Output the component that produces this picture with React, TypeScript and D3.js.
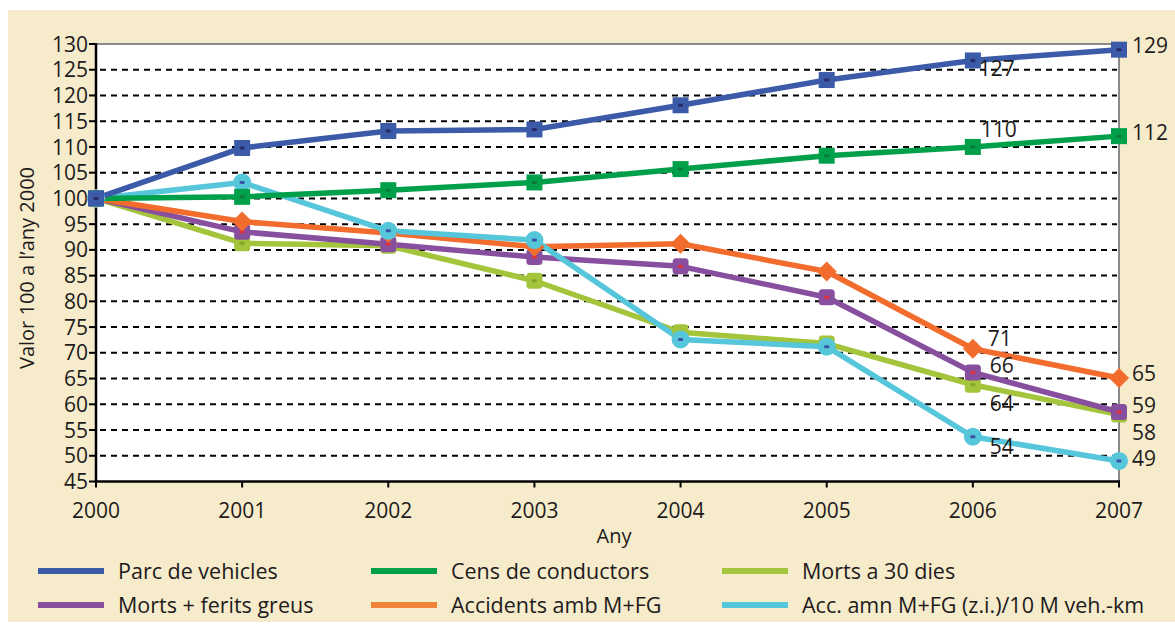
import React from "react";
import * as d3 from "d3";

const years = [2000, 2001, 2002, 2003, 2004, 2005, 2006, 2007];
const yTicks = [45, 50, 55, 60, 65, 70, 75, 80, 85, 90, 95, 100, 105, 110, 115, 120, 125, 130];

const parcVehicles = [100, 109.8, 113.1, 113.4, 118.1, 123.0, 126.8, 128.9];
const censConductors = [100, 100.3, 101.6, 103.1, 105.7, 108.3, 110.0, 112.1];
const morts30 = [100, 91.3, 90.8, 84.0, 74.0, 71.8, 63.8, 58.0];
const mortsFerits = [100, 93.5, 91.1, 88.6, 86.8, 80.8, 66.2, 58.5];
const accidents = [100, 95.5, 93.3, 90.6, 91.2, 85.8, 70.8, 65.1];
const accKm = [100, 103.1, 93.7, 91.9, 72.6, 71.2, 53.7, 49.0];

const legendNames = [
  "Parc de vehicles",
  "Cens de conductors",
  "Morts a 30 dies",
  "Morts + ferits greus",
  "Accidents amb M+FG",
  "Acc. amn M+FG (z.i.)/10 M veh.-km",
];

type Series = {
  name: string;
  values: number[];
  color: string;
  legendColor: string;
  marker: "square" | "diamond" | "circle" | "rsquare";
  center: string;
  labels: { i: number; text: string; dx: number; dy: number }[];
};

const series: Series[] = [
  { name: legendNames[2], values: morts30, color: "#A3C43B", legendColor: "#A3C43B", marker: "rsquare", center: "#7fa52a",
    labels: [{ i: 6, text: "64", dx: 17, dy: 19 }, { i: 7, text: "58", dx: 13, dy: 18 }] },
  { name: legendNames[3], values: mortsFerits, color: "#874F9E", legendColor: "#874F9E", marker: "rsquare", center: "#e0303a",
    labels: [{ i: 6, text: "66", dx: 17, dy: -7 }, { i: 7, text: "59", dx: 13, dy: -7 }] },
  { name: legendNames[4], values: accidents, color: "#F26C2D", legendColor: "#F0823A", marker: "diamond", center: "#F26C2D",
    labels: [{ i: 6, text: "71", dx: 15, dy: -10 }, { i: 7, text: "65", dx: 13, dy: -5 }] },
  { name: legendNames[5], values: accKm, color: "#56C6DA", legendColor: "#56C6DA", marker: "circle", center: "#3a55a8",
    labels: [{ i: 6, text: "54", dx: 17, dy: 10 }, { i: 7, text: "49", dx: 13, dy: -2 }] },
  { name: legendNames[1], values: censConductors, color: "#00A04B", legendColor: "#00A04B", marker: "square", center: "#0d7a3a",
    labels: [{ i: 6, text: "110", dx: 8, dy: -18 }, { i: 7, text: "112", dx: 13, dy: -4 }] },
  { name: legendNames[0], values: parcVehicles, color: "#3B5BA8", legendColor: "#3B5BA8", marker: "square", center: "#2a2a6a",
    labels: [{ i: 6, text: "127", dx: 6, dy: 8 }, { i: 7, text: "129", dx: 13, dy: -4 }] },
];

const legendOrder = [5, 4, 0, 1, 2, 3];
const legendCols = [38, 371, 722];
const legendRows = [571, 605];

const FONT = "'Open Sans', 'Noto Sans', sans-serif";
const TEXT = "#1e1b1c";

export default function App() {
  const W = 1175;
  const H = 626;
  const left = 96, right = 1119, top = 44, bottom = 481.5;
  const x = d3.scaleLinear().domain([2000, 2007]).range([left, right]);
  const y = d3.scaleLinear().domain([45, 130]).range([bottom, top]);
  const line = d3.line<number>().x((_, i) => x(years[i])).y((v) => y(v));

  const marker = (s: Series, cx: number, cy: number, key: string) => {
    const r = 8;
    let shape;
    if (s.marker === "square") {
      shape = <rect x={cx - r} y={cy - r} width={2 * r} height={2 * r} fill={s.color} />;
    } else if (s.marker === "rsquare") {
      shape = <rect x={cx - r} y={cy - r} width={2 * r} height={2 * r} rx={3.5} fill={s.color} />;
    } else if (s.marker === "diamond") {
      shape = <path d={`M${cx},${cy - 10}L${cx + 10},${cy}L${cx},${cy + 10}L${cx - 10},${cy}Z`} fill={s.color} />;
    } else {
      shape = <circle cx={cx} cy={cy} r={9} fill={s.color} />;
    }
    return (
      <g key={key}>
        {shape}
        <rect x={cx - 2.5} y={cy - 1.5} width={5} height={3} rx={1} fill={s.center} />
      </g>
    );
  };

  return (
    <svg width={W} height={H} style={{ position: "absolute", left: 0, top: 0, background: "#fff" }}>
      <rect x={8} y={10} width={W - 8} height={612} fill="#F6EBCB" />
      <rect x={left} y={top} width={right - left} height={bottom - top} fill="#fff" />
      {yTicks.filter((t) => t > 45 && t < 130).map((t) => (
        <line key={t} x1={left + 4} x2={right - 2} y1={y(t)} y2={y(t)} stroke="#000" strokeWidth={2} strokeDasharray="6,5" />
      ))}
      <line x1={left} x2={right} y1={top} y2={top} stroke="#8a8a8a" strokeWidth={2} />
      <line x1={right} x2={right} y1={top} y2={bottom} stroke="#8a8a8a" strokeWidth={2} />
      <line x1={left} x2={left} y1={top - 1} y2={bottom + 1} stroke="#000" strokeWidth={2.5} />
      <line x1={left} x2={right + 1} y1={bottom} y2={bottom} stroke="#000" strokeWidth={2.5} />
      {yTicks.map((t) => (
        <g key={t}>
          <line x1={left - 7} x2={left} y1={y(t)} y2={y(t)} stroke="#000" strokeWidth={2} />
          <text x={88} y={y(t)} dy="0.36em" textAnchor="end" fontFamily={FONT} fontSize={21} fill={TEXT}>{t}</text>
        </g>
      ))}
      {years.map((yr) => (
        <g key={yr}>
          <line x1={x(yr)} x2={x(yr)} y1={bottom} y2={bottom + 6} stroke="#000" strokeWidth={2} />
          <text x={x(yr)} y={518} textAnchor="middle" fontFamily={FONT} fontSize={21} fill={TEXT}>{yr}</text>
        </g>
      ))}
      <text x={614} y={543} textAnchor="middle" fontFamily={FONT} fontSize={20} fill={TEXT}>Any</text>
      <text transform="translate(34,268) rotate(-90)" textAnchor="middle" fontFamily={FONT} fontSize={20} fill={TEXT}>
        Valor 100 a l’any 2000
      </text>
      {series.map((s) => (
        <path key={s.name} d={line(s.values) || ""} fill="none" stroke={s.color} strokeWidth={5.5} strokeLinejoin="round" />
      ))}
      {series.map((s) => (
        <g key={s.name + "m"}>{s.values.map((v, i) => marker(s, x(years[i]), y(v), s.name + i))}</g>
      ))}
      {series.map((s) =>
        s.labels.map((l) => (
          <text key={s.name + l.text} x={x(years[l.i]) + l.dx} y={y(s.values[l.i]) + l.dy} dy="0.36em"
            fontFamily={FONT} fontSize={21} fill={TEXT}>{l.text}</text>
        ))
      )}
      {legendOrder.map((si, k) => {
        const s = series[si];
        const col = k % 3;
        const row = Math.floor(k / 3);
        const lx = legendCols[col];
        const ly = legendRows[row];
        return (
          <g key={s.name + "leg"}>
            <line x1={lx} x2={lx + 66} y1={ly} y2={ly} stroke={s.legendColor} strokeWidth={6} />
            <text x={lx + 80} y={ly} dy="0.36em" fontFamily={FONT} fontSize={21.5} fill={TEXT}>{s.name}</text>
          </g>
        );
      })}
    </svg>
  );
}
